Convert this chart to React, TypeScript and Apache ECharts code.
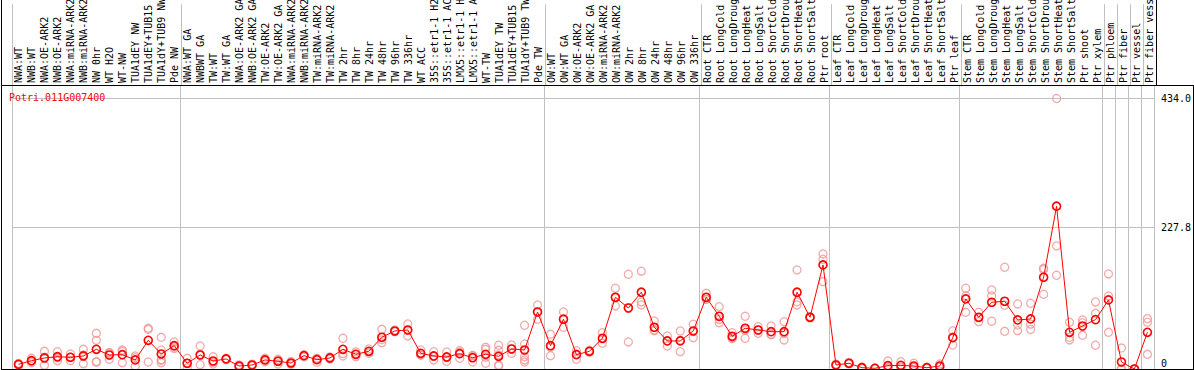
import React, { useEffect, useRef } from 'react';
import * as echarts from 'echarts';

const geneName = 'Potri.011G007400';

const groupSizes = [13, 28, 12, 10, 10, 11, 1, 1, 1, 1];

const categories = [
  'NWA:WT', 'NWB:WT', 'NWA:OE-ARK2', 'NWB:OE-ARK2', 'NWA:miRNA-ARK2', 'NWB:miRNA-ARK2', 'NW 0hr', 'WT H2O', 'WT-NW', 'TUA1dEY NW', 'TUA1dEY+TUB15', 'TUA1dY+TUB9 NW', 'Pde NW',
  'NWA:WT GA', 'NWBWT GA', 'TW:WT', 'TW:WT GA', 'NWA:OE-ARK2 GA', 'NWB:OE-ARK2 GA', 'TW:OE-ARK2', 'TW:OE-ARK2 GA', 'NWA:miRNA-ARK2', 'NWB:miRNA-ARK2', 'TW:miRNA-ARK2', 'TW:miRNA-ARK2', 'TW 2hr', 'TW 8hr', 'TW 24hr', 'TW 48hr', 'TW 96hr', 'TW 336hr', 'WT ACC', '35S::etr1-1 H2', '35S::etr1-1 AC', 'LMX5::etr1-1 H', 'LMX5::etr1-1 A', 'WT-TW', 'TUA1dEY TW', 'TUA1dEY+TUB15', 'TUA1dY+TUB9 TW', 'Pde TW',
  'OW:WT', 'OW:WT GA', 'OW:OE-ARK2', 'OW:OE-ARK2 GA', 'OW:miRNA-ARK2', 'OW:miRNA-ARK2', 'OW 2hr', 'OW 8hr', 'OW 24hr', 'OW 48hr', 'OW 96hr', 'OW 336hr',
  'Root CTR', 'Root LongCold', 'Root LongDroug', 'Root LongHeat', 'Root LongSalt', 'Root ShortCold', 'Root ShortDrou', 'Root ShortHeat', 'Root ShortSalt', 'Ptr root',
  'Leaf CTR', 'Leaf LongCold', 'Leaf LongDroug', 'Leaf LongHeat', 'Leaf LongSalt', 'Leaf ShortCold', 'Leaf ShortDrou', 'Leaf ShortHeat', 'Leaf ShortSalt', 'Ptr leaf',
  'Stem CTR', 'Stem LongCold', 'Stem LongDroug', 'Stem LongHeat', 'Stem LongSalt', 'Stem ShortCold', 'Stem ShortDrou', 'Stem ShortHeat', 'Stem ShortSalt', 'Ptr shoot', 'Ptr xylem',
  'Ptr phloem', 'Ptr fiber', 'Ptr vessel', 'Ptr fiber vess',
];

const means = [
  7.5, 13.3, 17.7, 19.7, 18.8, 20.9, 31.6, 22.5, 23.0, 14.5, 46.0, 24.1, 37.4,
  9.2, 22.5, 12.8, 16.1, 4.8, 6.4, 14.5, 12.4, 9.6, 21.4, 14.9, 17.7, 31.6, 23.6, 28.4, 50.9, 61.0, 62.6, 25.2, 20.9, 19.3, 24.6, 18.1, 23.6, 20.4, 32.1, 30.5, 91.5,
  37.4, 79.8, 23.0, 28.4, 49.3, 115.1, 97.9, 123.2, 67.0, 45.0, 45.0, 61.0,
  115.1, 84.6, 52.5, 65.4, 62.6, 59.9, 59.9, 123.2, 83.0, 167.0,
  6.4, 9.2, 2.1, 1.1, 5.3, 5.9, 4.8, 2.1, 4.8, 50.3,
  112.4, 83.0, 107.1, 108.7, 78.7, 80.3, 147.2, 261.2, 58.9, 69.0, 79.2,
  110.8, 11.2, 0, 58.9,
];

const replicates = [
  [7.5, 6, 9], [17.2, 10.1, 12.6], [28.4, 5.9, 18.8], [27.8, 13.3, 18], [24.1, 18.8, 13.5], [31.6, 8.5, 22.6],
  [57.3, 46, 12, 11], [25.2, 15.6, 26.7], [30.5, 10.1, 28.4], [20.9, 4.3, 18.3], [65.4, 63.7, 11.2],
  [50.9, 30.5, 14.5, 10.1, 14.5], [43.4, 35.5, 33],
  [17.2, 1.6, 8.8], [36.9, 6.9, 23.7], [19.7, 8, 10.7], [17.2, 15, 16.1], [4.8, 3, 6.6], [6.4, 5, 7.8],
  [17.2, 11.7, 14.6], [15.6, 8, 13.6], [12, 7.5, 9.3], [23, 19.5, 21.7], [10.8, 17, 17], [17.7, 16, 19.4],
  [49.3, 20.9, 24.6], [19.7, 27.5, 23.6], [32.1, 25.2, 27.9], [63.7, 42.2, 46.8], [62.6, 60, 60.4],
  [72.3, 53, 62.5], [30.5, 22.5, 22.6], [27.8, 14.5, 20.4], [27.3, 12.4, 18.2], [29.4, 17.2, 27.2],
  [11.2, 21.5, 21.6], [34.8, 31.5, 19, 9.2], [38.1, 30, 6.4, 4.8, 22.7], [38.5, 25.2, 32.6],
  [70.2, 40.1, 19.7, 14.5, 11.2], [102.8, 79.8, 92],
  [55.7, 21.4, 35], [91.5, 67, 81], [29.4, 15.6, 24], [30, 27, 28.2], [58.3, 41.3, 48.3],
  [129.6, 101.2, 114.5], [152, 43.4, 98.3], [156.9, 107.6, 102.8], [77.1, 62.6, 61.3], [53, 36.9, 45],
  [61, 27.8, 46.2], [71.8, 50.3, 61],
  [121.5, 112, 111.8], [100, 74.3, 79.5], [58.3, 48.7, 50.5], [84.6, 49.3, 62.3], [67.9, 57.3, 62.6],
  [69, 55.7, 55], [75.9, 46.6, 57.2], [159, 102.8, 107.8], [84, 82, 83], [184.6, 176.1, 140.2],
  [6.4, 5, 7.8], [9.2, 8, 10.4], [2.1, 1, 3.2], [1.1, 0.5, 1.7], [12.8, 1.5, 1.6], [11.7, 3, 3],
  [9.2, 2.6, 2.6], [2.1, 1.5, 2.7], [8, 3.2, 3.2], [61.5, 38.5, 51],
  [129.6, 117.2, 91], [91, 76, 82], [126.8, 117.2, 76.6], [163.3, 102.3, 60.5], [104.4, 70.6, 61.5],
  [105.5, 72, 63.4], [161.7, 119.9, 160], [434.0, 197.5, 150.4], [75, 50.9, 46.6], [78.7, 54.1, 74.3],
  [107.6, 89.4, 38.1],
  [152.5, 117.2, 58.9], [33.6, 0, 0], [0, 0, 0], [80.8, 75, 23.6],
];

const yLabelValues = [227.8, 434.0];
const yZeroValues = [0];

export default function App() {
  const ref = useRef<HTMLDivElement>(null);

  useEffect(() => {
    const chart = echarts.init(ref.current as HTMLDivElement, null, { renderer: 'svg' });

    const groupStarts = new Set<number>();
    let acc = 0;
    groupSizes.forEach((s) => {
      groupStarts.add(acc);
      acc += s;
    });

    const repData: number[][] = [];
    replicates.forEach((reps, i) => reps.forEach((v) => repData.push([i, v])));

    const yMax = Math.max(...replicates.flat()) * 1.05;
    const mono = 'DejaVu Sans Mono';
    const sepLine = {
      show: true,
      interval: (i: number) => groupStarts.has(i),
      lineStyle: { color: '#c0c0c0', width: 1, type: 'solid' },
    };

    chart.setOption({
      animation: false,
      backgroundColor: '#ffffff',
      title: {
        text: geneName,
        left: 9,
        top: 92,
        padding: 0,
        textStyle: { color: '#ff0000', fontFamily: mono, fontSize: 10, fontWeight: 'normal' },
      },
      grid: [
        { left: 12, right: 38, top: 85, bottom: 1 },
        { left: 12, right: 38, top: 0, height: 85 },
      ],
      xAxis: [
        {
          type: 'category',
          gridIndex: 0,
          data: categories,
          position: 'top',
          boundaryGap: true,
          axisLine: { show: false, onZero: false },
          axisTick: { show: false },
          axisLabel: { show: false },
          splitLine: sepLine,
        },
        {
          type: 'category',
          gridIndex: 1,
          data: categories,
          position: 'bottom',
          boundaryGap: true,
          axisLine: { show: false, onZero: false },
          axisTick: { show: false },
          axisLabel: {
            inside: true,
            interval: 0,
            rotate: 90,
            margin: 2,
            align: 'left',
            verticalAlign: 'middle',
            fontFamily: mono,
            fontSize: 10,
            color: '#000000',
          },
          splitLine: sepLine,
        },
      ],
      yAxis: [
        {
          type: 'value',
          gridIndex: 0,
          position: 'right',
          min: 0,
          max: yMax,
          axisLine: { show: false },
          axisTick: { show: false, customValues: yLabelValues },
          axisLabel: {
            customValues: yLabelValues,
            formatter: (v: number) => v.toFixed(1),
            margin: 7,
            fontFamily: mono,
            fontSize: 10,
            color: '#000000',
            verticalAlign: 'middle',
            padding: [5, 0, 0, 0],
          },
          splitLine: { show: true, lineStyle: { color: '#c0c0c0', width: 1 } },
        },
        {
          type: 'value',
          gridIndex: 0,
          position: 'right',
          min: 0,
          max: yMax,
          axisLine: { show: false },
          axisTick: { show: false, customValues: yZeroValues },
          axisLabel: {
            customValues: yZeroValues,
            formatter: (v: number) => String(v),
            margin: 7,
            fontFamily: mono,
            fontSize: 10,
            color: '#000000',
            verticalAlign: 'bottom',
            padding: [0, 0, 1, 0],
          },
          splitLine: { show: false },
        },
        { type: 'value', gridIndex: 1, show: false, min: 0, max: 1 },
      ],
      series: [
        {
          name: 'replicates',
          type: 'scatter',
          xAxisIndex: 0,
          yAxisIndex: 0,
          data: repData,
          symbol: 'circle',
          symbolSize: 8,
          itemStyle: { color: 'rgba(255,255,255,0)', borderColor: '#ef9595', borderWidth: 1.3 },
          z: 2,
          silent: true,
        },
        {
          name: 'mean',
          type: 'line',
          xAxisIndex: 0,
          yAxisIndex: 0,
          data: means,
          symbol: 'circle',
          symbolSize: 8,
          showAllSymbol: true,
          lineStyle: { color: '#ff0000', width: 1 },
          itemStyle: { color: 'rgba(255,255,255,0)', borderColor: '#ff0000', borderWidth: 1.6 },
          z: 3,
          silent: true,
        },
      ],
      graphic: [
        { type: 'line', z: 10, shape: { x1: 1.5, y1: 0, x2: 1.5, y2: 370 }, style: { stroke: '#000', lineWidth: 1 } },
        { type: 'line', z: 10, shape: { x1: 1, y1: 85.5, x2: 1194, y2: 85.5 }, style: { stroke: '#000', lineWidth: 1 } },
        { type: 'line', z: 10, shape: { x1: 1193.5, y1: 85, x2: 1193.5, y2: 370 }, style: { stroke: '#000', lineWidth: 1 } },
        { type: 'line', z: 10, shape: { x1: 1, y1: 369.5, x2: 1194, y2: 369.5 }, style: { stroke: '#000', lineWidth: 1 } },
        { type: 'line', z: 10, shape: { x1: 1156.5, y1: 0, x2: 1156.5, y2: 85 }, style: { stroke: '#000', lineWidth: 1 } },
      ],
    });

    return () => chart.dispose();
  }, []);

  return (
    <div
      ref={ref}
      style={{ position: 'fixed', left: 0, top: 0, width: 1194, height: 370, background: '#fff' }}
    />
  );
}
